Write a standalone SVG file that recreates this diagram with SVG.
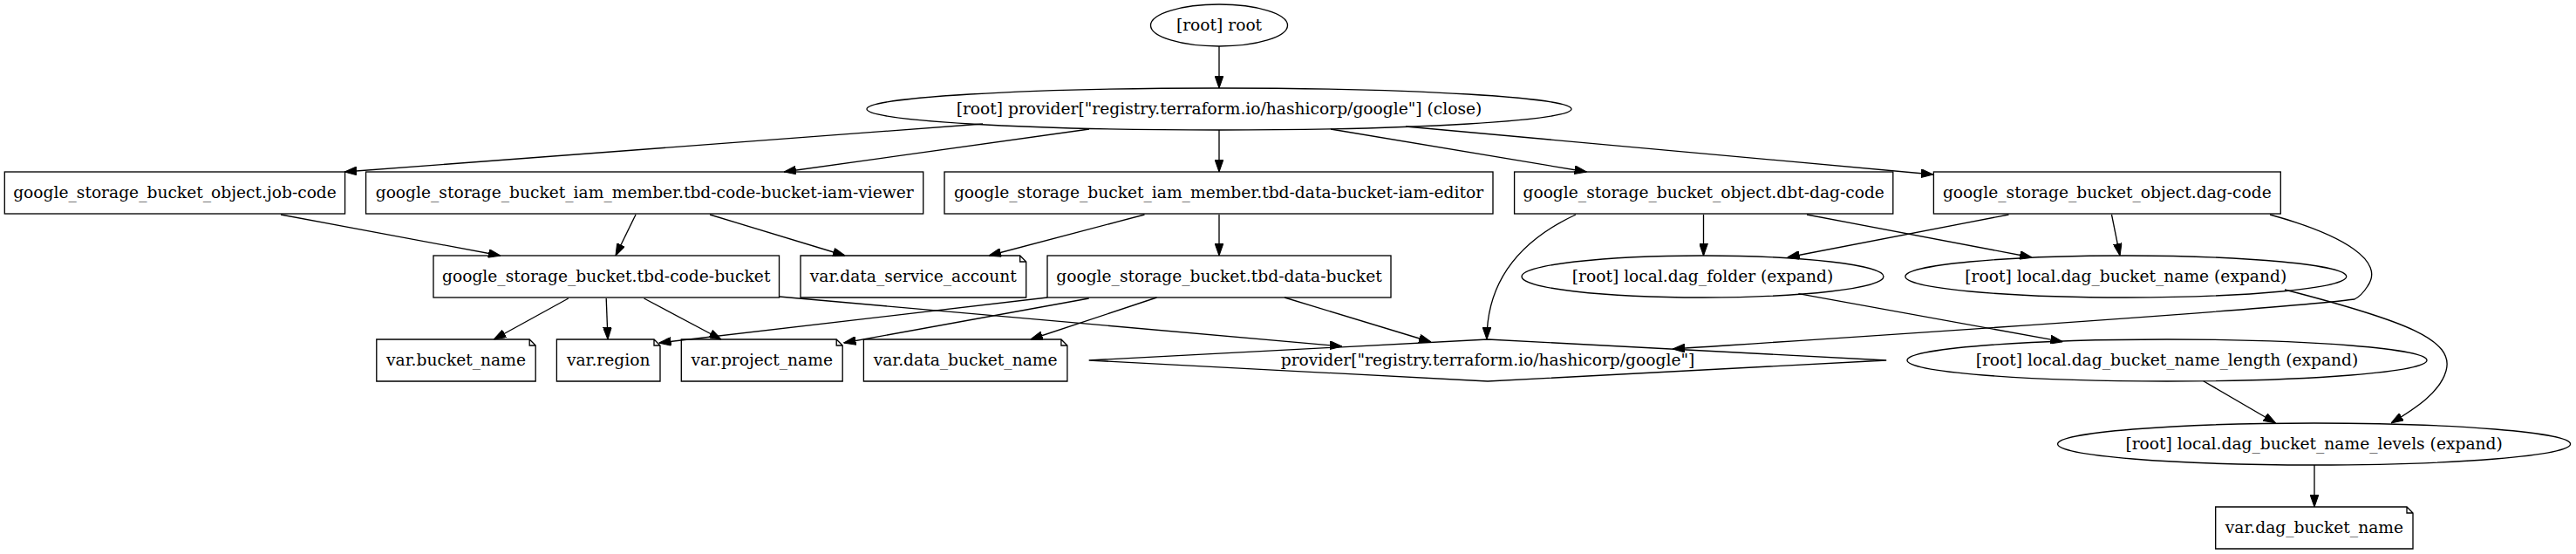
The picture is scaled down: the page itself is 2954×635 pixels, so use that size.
<svg xmlns="http://www.w3.org/2000/svg" width="2954" height="635" viewBox="0 0 2954 635">
<style>
.n{fill:none;stroke:#000;stroke-width:1.33}
.t{font-family:"DejaVu Serif","Liberation Serif",serif;font-size:18.67px;text-anchor:middle;fill:#000}
.e{fill:none;stroke:#000;stroke-width:1.33;marker-end:url(#ah)}
</style>
<defs>
<marker id="ah" markerUnits="userSpaceOnUse" markerWidth="14" markerHeight="10" viewBox="0 0 13.33 9.33" refX="13.33" refY="4.67" orient="auto">
<path d="M0,0 L13.33,4.67 L0,9.33 z" fill="#000" stroke="#000" stroke-width="1"/>
</marker>
</defs>
<rect x="0" y="0" width="2954" height="635" fill="#fff"/>
<g id="edges">
<path class="e" d="M1398,53 L1398,101"/>
<path class="e" d="M1127,142 L395,197"/>
<path class="e" d="M1249,148 L899,197"/>
<path class="e" d="M1398,149 L1398,197"/>
<path class="e" d="M1526,148 L1819.5,197"/>
<path class="e" d="M1612,145 L2217,200"/>
<path class="e" d="M322,246 L574,293"/>
<path class="e" d="M729,246 L706,293"/>
<path class="e" d="M814,246 L969,293"/>
<path class="e" d="M1312.5,246 L1134,293"/>
<path class="e" d="M1398,246 L1398,293"/>
<path class="e" d="M1807,246 C1745,275 1705,320 1705,389"/>
<path class="e" d="M1953.5,246 L1953.5,293"/>
<path class="e" d="M2072,246 L2330,295"/>
<path class="e" d="M2303.5,246 L2049.7,295"/>
<path class="e" d="M2421.5,246 L2431,293"/>
<path class="e" d="M2603,246 C2690,270 2735,300 2715,328 C2710,336 2706,340 2700,343 C2600,356 2100,388 1918,400"/>
<path class="e" d="M651.8,342 L566.3,389"/>
<path class="e" d="M695.2,342 L697,389"/>
<path class="e" d="M738.5,342 L827,389"/>
<path class="e" d="M893.5,340 L1539,397"/>
<path class="e" d="M1201,341 L755.7,393"/>
<path class="e" d="M1248.7,342 L967.5,393"/>
<path class="e" d="M1326.5,341 L1181.8,389"/>
<path class="e" d="M1473,341 L1641,392"/>
<path class="e" d="M2062.4,336.7 L2365.4,391.7"/>
<path class="e" d="M2620,332 C2760,368 2815,390 2805,425 C2798,450 2770,468 2742,485"/>
<path class="e" d="M2526.7,436.7 L2609.6,485"/>
<path class="e" d="M2654,533 L2654,581"/>
</g>
<g id="root">
<ellipse class="n" cx="1398" cy="29" rx="78.5" ry="24"/>
<text class="t" x="1398" y="34.8">[root] root</text>
</g>
<g id="provider_close">
<ellipse class="n" cx="1398" cy="125" rx="404" ry="24"/>
<text class="t" x="1398" y="130.8">[root] provider["registry.terraform.io/hashicorp/google"] (close)</text>
</g>
<g id="job_code">
<rect class="n" x="5.3" y="197" width="390.3" height="48"/>
<text class="t" x="200.5" y="226.8">google_storage_bucket_object.job-code</text>
</g>
<g id="iam_viewer">
<rect class="n" x="419.6" y="197" width="639.1" height="48"/>
<text class="t" x="739.2" y="226.8">google_storage_bucket_iam_member.tbd-code-bucket-iam-viewer</text>
</g>
<g id="iam_editor">
<rect class="n" x="1083" y="197" width="629" height="48"/>
<text class="t" x="1397.5" y="226.8">google_storage_bucket_iam_member.tbd-data-bucket-iam-editor</text>
</g>
<g id="dbt_dag_code">
<rect class="n" x="1736.6" y="197" width="434.2" height="48"/>
<text class="t" x="1953.7" y="226.8">google_storage_bucket_object.dbt-dag-code</text>
</g>
<g id="dag_code">
<rect class="n" x="2217.4" y="197" width="397.9" height="48"/>
<text class="t" x="2416.3" y="226.8">google_storage_bucket_object.dag-code</text>
</g>
<g id="tbd_code_bucket">
<rect class="n" x="497" y="293" width="396.5" height="48"/>
<text class="t" x="695.2" y="322.8">google_storage_bucket.tbd-code-bucket</text>
</g>
<g id="var_data_service_account">
<path class="n" d="M918,293 L1169.7,293 L1176.7,300 L1176.7,341 L918,341 Z M1169.7,293 L1169.7,300 L1176.7,300"/>
<text class="t" x="1047.3" y="322.8">var.data_service_account</text>
</g>
<g id="tbd_data_bucket">
<rect class="n" x="1201" y="293" width="394" height="48"/>
<text class="t" x="1398" y="322.8">google_storage_bucket.tbd-data-bucket</text>
</g>
<g id="local_dag_folder">
<ellipse class="n" cx="1952.5" cy="317" rx="207.5" ry="24"/>
<text class="t" x="1952.5" y="322.8">[root] local.dag_folder (expand)</text>
</g>
<g id="local_dag_bucket_name">
<ellipse class="n" cx="2437.8" cy="317" rx="252.9" ry="24"/>
<text class="t" x="2437.8" y="322.8">[root] local.dag_bucket_name (expand)</text>
</g>
<g id="var_bucket_name">
<path class="n" d="M431.8,389 L607.2,389 L614.2,396 L614.2,437 L431.8,437 Z M607.2,389 L607.2,396 L614.2,396"/>
<text class="t" x="523" y="418.8">var.bucket_name</text>
</g>
<g id="var_region">
<path class="n" d="M638.4,389 L750,389 L757,396 L757,437 L638.4,437 Z M750,389 L750,396 L757,396"/>
<text class="t" x="697.7" y="418.8">var.region</text>
</g>
<g id="var_project_name">
<path class="n" d="M781.3,389 L959.2,389 L966.2,396 L966.2,437 L781.3,437 Z M959.2,389 L959.2,396 L966.2,396"/>
<text class="t" x="873.7" y="418.8">var.project_name</text>
</g>
<g id="var_data_bucket_name">
<path class="n" d="M990.4,389 L1216.9,389 L1223.9,396 L1223.9,437 L990.4,437 Z M1216.9,389 L1216.9,396 L1223.9,396"/>
<text class="t" x="1107.1" y="418.8">var.data_bucket_name</text>
</g>
<g id="provider_google">
<polygon class="n" points="1706,389 2163.2,413 1706,437 1248.7,413"/>
<text class="t" x="1706" y="418.8">provider["registry.terraform.io/hashicorp/google"]</text>
</g>
<g id="local_dag_bucket_name_length">
<ellipse class="n" cx="2485" cy="413" rx="298" ry="24"/>
<text class="t" x="2485" y="418.8">[root] local.dag_bucket_name_length (expand)</text>
</g>
<g id="local_dag_bucket_name_levels">
<ellipse class="n" cx="2653.6" cy="509" rx="294" ry="24"/>
<text class="t" x="2653.6" y="514.8">[root] local.dag_bucket_name_levels (expand)</text>
</g>
<g id="var_dag_bucket_name">
<path class="n" d="M2540.7,581 L2760,581 L2767,588 L2767,629 L2540.7,629 Z M2760,581 L2760,588 L2767,588"/>
<text class="t" x="2653.9" y="610.8">var.dag_bucket_name</text>
</g>
</svg>
